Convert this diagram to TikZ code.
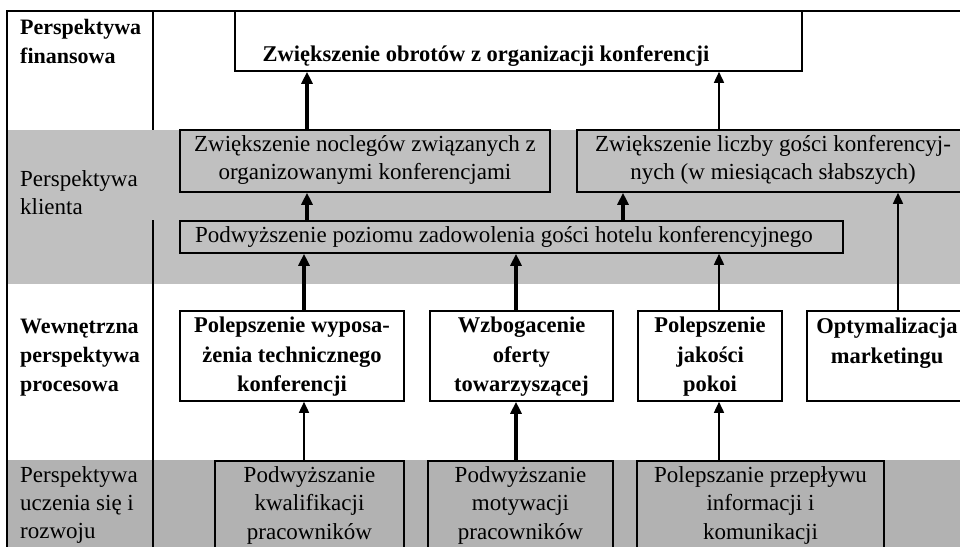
\documentclass[tikz,border=0pt]{standalone}
\usepackage{fontspec}
\setmainfont{Liberation Serif}
\usetikzlibrary{arrows.meta}
\definecolor{bandA}{HTML}{C0C0C0}
\definecolor{bandB}{HTML}{B2B2B2}
\begin{document}
\begin{tikzpicture}[x=1pt,y=-1pt,
  frameline/.style={line width=1.6pt},
  box/.style={draw, line width=1.6pt, inner sep=0pt},
  regtxt/.style={inner sep=0pt, align=center, font=\fontsize{23}{28.5}\selectfont},
  boldtxt/.style={inner sep=0pt, align=center, font=\bfseries\fontsize{22.5}{29.5}\selectfont},
  lefttxt/.style={inner sep=0pt, align=left, anchor=west, font=\fontsize{23}{28}\selectfont},
  leftbold/.style={inner sep=0pt, align=left, anchor=west, font=\bfseries\fontsize{22}{29}\selectfont},
  thickarrow/.style={line width=3.4pt, -{Triangle[width=11pt,length=12pt]}},
  thinarrow/.style={line width=1.6pt, -{Triangle[width=10pt,length=11pt]}}
]
\useasboundingbox (0,0) rectangle (960,546);
\clip (0,0) rectangle (960,546);
\fill[white] (0,0) rectangle (960,546);
% bands
\fill[bandA] (7,130) rectangle (962,284);
\fill[bandB] (7,460) rectangle (962,548);
% frame
\draw[frameline] (7,548) -- (7,11) -- (962,11);
\draw[frameline] (153,11) -- (153,130);
\draw[frameline] (153,220) -- (153,548);
% column coordinates
\coordinate (c304) at (304,0);
\coordinate (c307) at (307,0);
\coordinate (c516) at (516,0);
\coordinate (c623) at (623,0);
\coordinate (c719) at (719,0);
\coordinate (c898) at (898,0);
% left labels
\node[leftbold] (lf) at (20,41.5) {Perspektywa\\finansowa};
\node[lefttxt] (lk) at (20,193) {Perspektywa\\klienta};
\node[leftbold] (lp) at (20,357.5) {Wewnętrzna\\perspektywa\\procesowa};
\node[lefttxt] (lu) at (20,505) {Perspektywa\\uczenia się i\\rozwoju};
% financial
\node[box, minimum width=567pt, minimum height=60pt] (FB) at (518.5,41) {};
\node[boldtxt] (FT) at (486,56) {Zwiększenie obrotów z organizacji konferencji};
% client
\node[box, fill=bandA, minimum width=370pt, minimum height=62pt] (A) at (365,161) {};
\node[regtxt] (At) at (365,160) {Zwiększenie noclegów związanych z\\organizowanymi konferencjami};
\node[box, fill=bandA, minimum width=392pt, minimum height=62pt] (B) at (773,161) {};
\node[regtxt] (Bt) at (773,160) {Zwiększenie liczby gości konferencyj-\\nych (w miesiącach słabszych)};
\node[box, fill=bandA, minimum width=663pt, minimum height=32pt] (C) at (511.5,237) {};
\node[regtxt] (Ct) at (504,237) {Podwyższenie poziomu zadowolenia gości hotelu konferencyjnego};
% process
\node[box, minimum width=224pt, minimum height=90pt] (P1) at (292,356) {};
\node[boldtxt] (P1t) at (292,357) {Polepszenie wyposa-\\żenia technicznego\\konferencji};
\node[box, minimum width=183pt, minimum height=90pt] (P2) at (521.5,356) {};
\node[boldtxt] (P2t) at (521.5,357) {Wzbogacenie\\oferty\\towarzyszącej};
\node[box, minimum width=144pt, minimum height=90pt] (P3) at (710,356) {};
\node[boldtxt] (P3t) at (710,357) {Polepszenie\\jakości\\pokoi};
\node[box, minimum width=160pt, minimum height=90pt] (P4) at (887,356) {};
\node[boldtxt] (P4t) at (887,343) {Optymalizacja\\marketingu};
% learning
\node[box, fill=bandB, minimum width=189pt, minimum height=110pt] (L1) at (309.5,516) {};
\node[regtxt] (L1t) at (309.5,505) {Podwyższanie\\kwalifikacji\\pracowników};
\node[box, fill=bandB, minimum width=185pt, minimum height=110pt] (L2) at (520.5,516) {};
\node[regtxt] (L2t) at (520.5,505) {Podwyższanie\\motywacji\\pracowników};
\node[box, fill=bandB, minimum width=247pt, minimum height=110pt] (L3) at (760.5,516) {};
\node[regtxt] (L3t) at (760.5,505) {Polepszanie przepływu\\informacji i\\komunikacji};
% connectors
\draw[thickarrow] (A.north -| c307) -- (FB.south -| c307);
\draw[thinarrow] (B.north -| c719) -- (FB.south -| c719);
\draw[thickarrow] (C.north -| c307) -- (A.south -| c307);
\draw[thickarrow] (C.north -| c623) -- (B.south -| c623);
\draw[thickarrow] (P1.north -| c304) -- (C.south -| c304);
\draw[thickarrow] (P2.north -| c516) -- (C.south -| c516);
\draw[thinarrow] (P3.north -| c719) -- (C.south -| c719);
\draw[thinarrow] (P4.north -| c898) -- (B.south -| c898);
\draw[thinarrow] (L1.north -| c304) -- (P1.south -| c304);
\draw[thickarrow] (L2.north -| c516) -- (P2.south -| c516);
\draw[thinarrow] (L3.north -| c719) -- (P3.south -| c719);
\end{tikzpicture}
\end{document}
